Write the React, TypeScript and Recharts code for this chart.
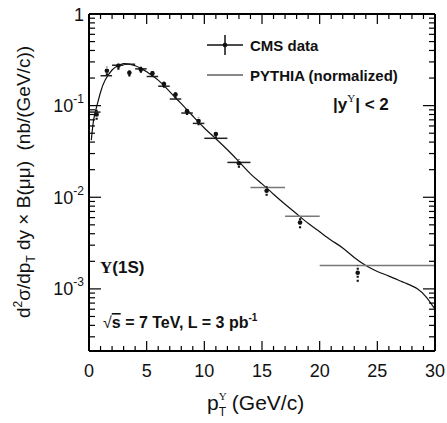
import React from 'react';
import { ComposedChart, XAxis, YAxis, Line, Scatter, ErrorBar, Customized } from 'recharts';

// ---- data ----
const binLow = [0, 1, 2, 3, 4, 5, 6, 7, 8, 9, 10, 12, 14, 17, 20];
const binHigh = [1, 2, 3, 4, 5, 6, 7, 8, 9, 10, 12, 14, 17, 20, 30];
const pointX = [0.66, 1.55, 2.55, 3.5, 4.5, 5.5, 6.5, 7.5, 8.5, 9.5, 11.0, 13.0, 15.4, 18.3, 23.3];
const pointY = [0.08, 0.24, 0.272, 0.228, 0.248, 0.225, 0.172, 0.132, 0.087, 0.068, 0.049, 0.0235, 0.0118, 0.0053, 0.0015];
const pointErr = [0.01, 0.025, 0.025, 0.02, 0.02, 0.02, 0.015, 0.012, 0.008, 0.007, 0.005, 0.0025, 0.0014, 0.0007, 0.0003];
const barY = [0.085, 0.212, 0.276, 0.283, 0.252, 0.208, 0.163, 0.118, 0.083, 0.064, 0.044, 0.024, 0.0128, 0.0062, 0.0018];

const pythiaX = [0.2, 0.4, 0.66, 1.0, 1.4, 2.0, 2.5, 3.0, 3.5, 4.0, 4.5, 5.0, 5.5, 6.0, 6.5, 7.0, 7.5, 8.0, 8.5, 9.0, 9.5, 10, 11, 12, 13, 14, 15, 16, 17, 18, 19, 20, 21, 22, 23, 24, 25, 26, 27, 27.5, 28.5, 29.3, 30];
const pythiaY = [0.042, 0.07, 0.097, 0.14, 0.19, 0.245, 0.273, 0.287, 0.284, 0.272, 0.255, 0.235, 0.212, 0.19, 0.165, 0.142, 0.122, 0.105, 0.09, 0.077, 0.066, 0.057, 0.0435, 0.033, 0.0245, 0.018, 0.014, 0.0108, 0.0084, 0.0066, 0.0052, 0.0042, 0.0034, 0.0028, 0.0022, 0.0018, 0.00155, 0.00138, 0.00122, 0.00115, 0.001, 0.0008, 0.0006];

const xTicks = Array.from({ length: 31 }, (_, i) => i);
const xMajor = [0, 5, 10, 15, 20, 25, 30];
const yDomain: [number, number] = [2.1e-4, 1];
const yTicks: number[] = [];
for (let d = -4; d <= 0; d++) {
  for (let m = 1; m <= 9; m++) {
    const v = Number((m * Math.pow(10, d)).toPrecision(3));
    if (v >= yDomain[0] && v <= yDomain[1]) yTicks.push(v);
  }
}
const yMajor = [1e-3, 1e-2, 1e-1, 1];
const grayBarFrom = 12; // bins 14-17, 17-20, 20-30 drawn lighter

const pointsData = pointX.map((x, i) => ({ x, y: pointY[i], err: pointErr[i] }));
const barsData = binLow.map((lo, i) => ({ x: (lo + binHigh[i]) / 2, y: barY[i], xerr: (binHigh[i] - lo) / 2 }));
const barsDark = barsData.slice(0, grayBarFrom);
const barsGray = barsData.slice(grayBarFrom);
const pythiaData = pythiaX.map((x, i) => ({ x, y: pythiaY[i] }));

const FONT = '"Liberation Sans", Arial, Helvetica, sans-serif';
const SERIF = '"Liberation Serif", "DejaVu Serif", serif';

const isMajorY = (v: number) => yMajor.some((m) => Math.abs(m - v) / m < 1e-6);

const BottomTick = (props: any) => {
  const { x, y, payload } = props;
  const v = payload.value;
  const major = xMajor.includes(v);
  return (
    <g>
      <line x1={x} x2={x} y1={y} y2={y - (major ? 10 : 5)} stroke="#000" strokeWidth={1.2} />
      {major && (
        <text x={x} y={y + 25.5} textAnchor="middle" fontSize={18} fontFamily={FONT} fill="#111">
          {v}
        </text>
      )}
    </g>
  );
};
const TopTick = (props: any) => {
  const { x, y, payload } = props;
  const major = xMajor.includes(payload.value);
  return <line x1={x} x2={x} y1={y} y2={y + (major ? 10 : 5)} stroke="#000" strokeWidth={1.2} />;
};
const LeftTick = (props: any) => {
  const { x, y, payload } = props;
  const v = payload.value;
  const major = isMajorY(v);
  const exp = Math.round(Math.log10(v));
  return (
    <g>
      <line x1={x} x2={x + (major ? 12 : 6)} y1={y} y2={y} stroke="#000" strokeWidth={1.2} />
      {major && (
        <text x={x - 5} y={y + 6.5} textAnchor="end" fontSize={18} fontFamily={FONT} fill="#111">
          {exp === 0 ? '1' : (
            <>
              10<tspan fontSize={12} dy={-9}>{exp}</tspan>
            </>
          )}
        </text>
      )}
    </g>
  );
};
const RightTick = (props: any) => {
  const { x, y, payload } = props;
  const major = isMajorY(payload.value);
  return <line x1={x} x2={x - (major ? 12 : 6)} y1={y} y2={y} stroke="#000" strokeWidth={1.2} />;
};

const Dot = (props: any) => {
  const { cx, cy } = props;
  return <circle cx={cx} cy={cy} r={2.3} fill="#111" />;
};
const NoShape = () => <g />;

const Annotations = () => (
  <g fontFamily={FONT} fill="#111">
    {/* legend */}
    <line x1={207} x2={243} y1={45} y2={45} stroke="#111" strokeWidth={1.5} />
    <line x1={225} x2={225} y1={35} y2={55} stroke="#111" strokeWidth={1.5} />
    <circle cx={225} cy={45} r={2.3} fill="#111" />
    <text x={250} y={50.5} fontSize={15} fontWeight="bold">CMS data</text>
    <line x1={207} x2={243} y1={75} y2={75} stroke="#111" strokeWidth={1.2} />
    <text x={250} y={80.5} fontSize={15} fontWeight="bold">PYTHIA (normalized)</text>
    <text x={333} y={110} fontSize={17} fontWeight="bold">
      |y<tspan fontSize={11} dy={-8} fontFamily={SERIF} fontWeight="normal">Υ</tspan>
      <tspan dy={8}>| &lt; 2</tspan>
    </text>
    <text x={100} y={273} fontSize={17} fontWeight="bold">
      <tspan fontFamily={SERIF}>Υ</tspan>(1S)
    </text>
    <text x={103} y={328} fontSize={16} fontWeight="bold">
      <tspan fontWeight="normal">√</tspan>
      <tspan textDecoration="overline">s</tspan>{' = 7 TeV, L = 3 pb'}<tspan fontSize={10} dy={-7}>-1</tspan>
    </text>
    {/* axis titles */}
    <text x={207} y={410} fontSize={21}>
      p<tspan fontSize={11} dy={-10} fontFamily={SERIF}>Υ</tspan>
      <tspan fontSize={12} dx={-8} dy={16}>T</tspan>
      <tspan dy={-6}>{' (GeV/c)'}</tspan>
    </text>
    <text transform="translate(30,182) rotate(-90)" textAnchor="middle" fontSize={19} xmlSpace="preserve">
      d<tspan fontSize={12} dy={-8}>2</tspan>
      <tspan dy={8}>σ/dp</tspan>
      <tspan fontSize={12} dy={5}>T</tspan>
      <tspan dy={-5}>{'\u00a0dy × B(μμ)\u00a0\u00a0(nb/(GeV/c))'}</tspan>
    </text>
  </g>
);

export default function App() {
  return (
    <div style={{ position: 'absolute', left: 0, top: 0, background: '#fff' }}>
      <ComposedChart width={447} height={423} margin={{ top: 13, right: 11, bottom: 71, left: 88 }}>
        <XAxis
          xAxisId="b"
          type="number"
          dataKey="x"
          domain={[0, 30]}
          ticks={xTicks}
          interval={0}
          allowDataOverflow
          height={1}
          tickSize={0}
          tickMargin={0}
          tickLine={false}
          tick={BottomTick}
          axisLine={{ stroke: '#000', strokeWidth: 2 }}
        />
        <XAxis
          xAxisId="t"
          orientation="top"
          type="number"
          dataKey="x"
          domain={[0, 30]}
          ticks={xTicks}
          interval={0}
          allowDataOverflow
          height={1}
          tickSize={0}
          tickMargin={0}
          tickLine={false}
          tick={TopTick}
          axisLine={{ stroke: '#000', strokeWidth: 2 }}
        />
        <YAxis
          yAxisId="l"
          type="number"
          scale="log"
          domain={yDomain}
          ticks={yTicks}
          interval={0}
          allowDataOverflow
          width={1}
          tickSize={0}
          tickMargin={0}
          tickLine={false}
          tick={LeftTick}
          axisLine={{ stroke: '#000', strokeWidth: 2 }}
        />
        <YAxis
          yAxisId="r"
          orientation="right"
          type="number"
          scale="log"
          domain={yDomain}
          ticks={yTicks}
          interval={0}
          allowDataOverflow
          width={1}
          tickSize={0}
          tickMargin={0}
          tickLine={false}
          tick={RightTick}
          axisLine={{ stroke: '#000', strokeWidth: 2 }}
        />
        <Line
          xAxisId="b"
          yAxisId="l"
          data={pythiaData}
          dataKey="y"
          type="natural"
          stroke="#111"
          strokeWidth={1.2}
          dot={false}
          isAnimationActive={false}
        />
        <Scatter xAxisId="b" yAxisId="l" data={barsDark} dataKey="y" shape={NoShape} isAnimationActive={false}>
          <ErrorBar dataKey="xerr" direction="x" width={0} stroke="#222" strokeWidth={1.5} />
        </Scatter>
        <Scatter xAxisId="b" yAxisId="l" data={barsGray} dataKey="y" shape={NoShape} isAnimationActive={false}>
          <ErrorBar dataKey="xerr" direction="x" width={0} stroke="#777" strokeWidth={1.5} />
        </Scatter>
        <Scatter xAxisId="b" yAxisId="l" data={pointsData} dataKey="y" shape={Dot} isAnimationActive={false}>
          <ErrorBar dataKey="err" direction="y" width={0} stroke="#111" strokeWidth={2.2} strokeDasharray="2 2" />
        </Scatter>
        <Customized component={Annotations} />
      </ComposedChart>
    </div>
  );
}
